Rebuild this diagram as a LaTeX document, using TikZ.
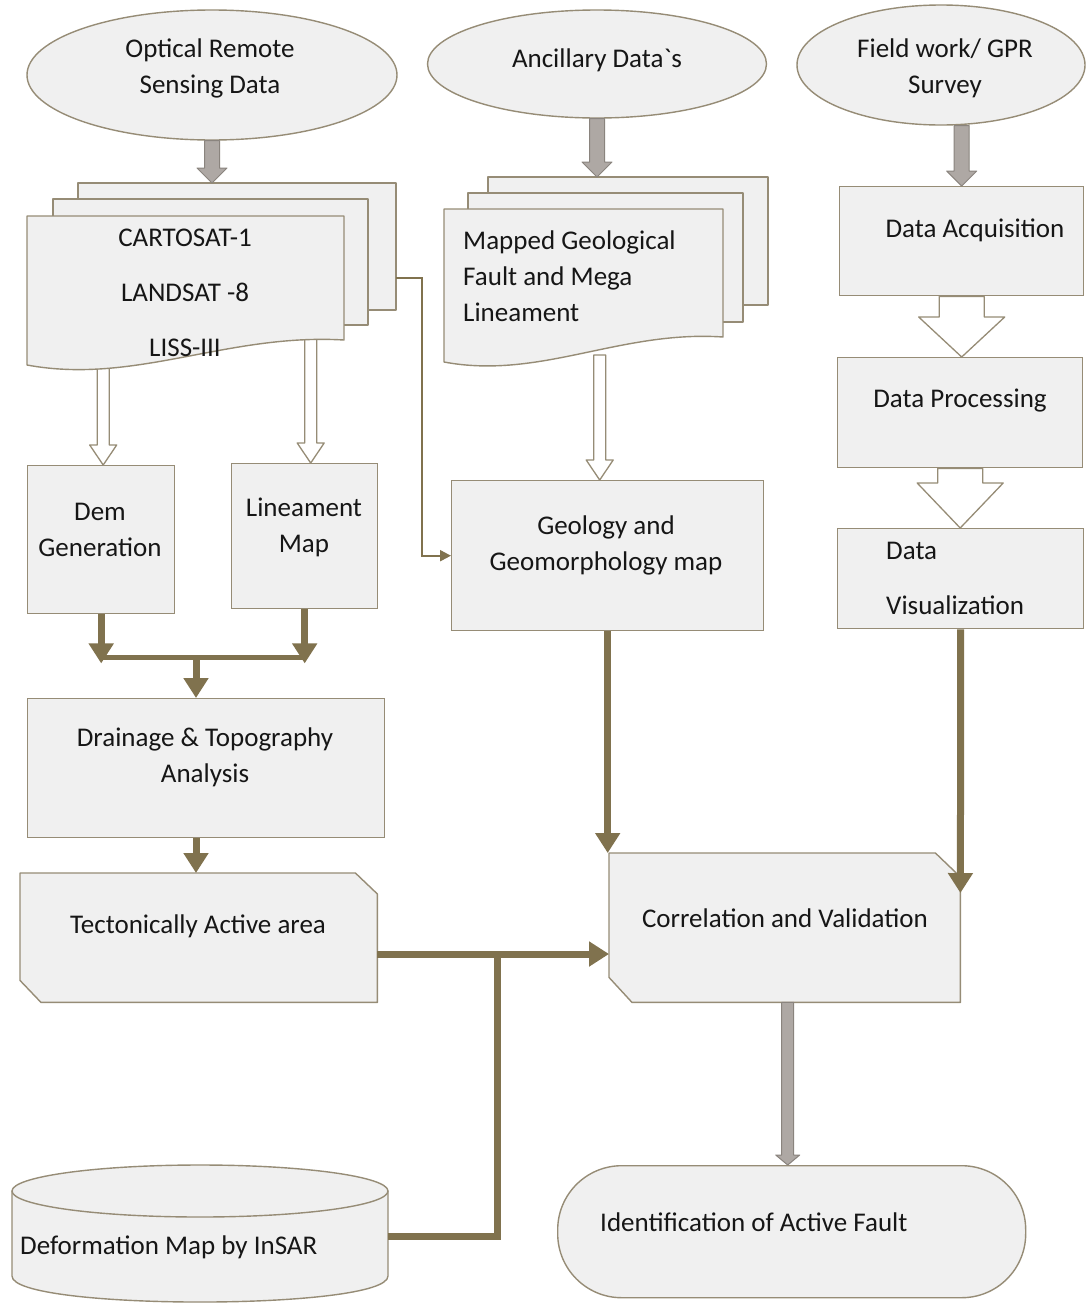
\documentclass[tikz,border=0pt]{standalone}
\usepackage{fontspec}
\setmainfont{Carlito}
\usetikzlibrary{arrows.meta,calc,shapes.geometric}

\definecolor{boxfill}{RGB}{240,240,240}
\definecolor{boxline}{RGB}{150,140,118}
\definecolor{flow}{RGB}{128,114,78}
\definecolor{greyfill}{RGB}{174,168,164}
\definecolor{greyline}{RGB}{138,132,126}
\definecolor{ink}{RGB}{22,22,22}

% vertical block arrow: style, tail, tip, half shaft, half head, head length
\newcommand\vblock[6]{%
  \path[#1] let \p1=#2, \p2=#3 in
    (\x1-#4,\y1) -- (\x1+#4,\y1) -- (\x1+#4,\y2+#6) -- (\x1+#5,\y2+#6)
    -- (\x1,\y2) -- (\x1-#5,\y2+#6) -- (\x1-#4,\y2+#6) -- cycle;}

\begin{document}
\begin{tikzpicture}[x=1pt, y=-1pt,
  font=\fontsize{27}{36}\selectfont, text=ink,
  box/.style={draw=boxline, fill=boxfill, line width=1.4pt, rectangle, inner sep=0pt, anchor=north west},
  ghost/.style={rectangle, inner sep=0pt, anchor=north west},
  oval/.style={draw=boxline, fill=boxfill, line width=1.4pt, ellipse, inner sep=0pt},
  outline/.style={draw=boxline, fill=boxfill, line width=1.4pt, line join=round},
  caption/.style={inner sep=0pt, align=center},
  flowline/.style={draw=flow, line width=7pt},
  flowarrow/.style={flowline, -{Triangle[width=24pt,length=20pt]}},
  link/.style={draw=flow, line width=2pt, -{Triangle[width=11pt,length=11pt]}},
  greyblock/.style={draw=greyline, fill=greyfill, line width=1pt, line join=round},
  hollowblock/.style={draw=boxline, fill=white, line width=1.3pt, line join=round}]

\useasboundingbox (0,0) rectangle (1091,1312);
\fill[white] (0,0) rectangle (1091,1312);

% ---- data sources
\node[oval, minimum width=370pt, minimum height=130pt] (opt) at (212,75) {};
\node[oval, minimum width=339pt, minimum height=108pt] (anc) at (597,64) {};
\node[oval, minimum width=288pt, minimum height=120pt] (fld) at (941,65) {};

% ---- boxes
\node[box, minimum width=147pt, minimum height=148pt] (dem) at (27,465) {};
\node[box, minimum width=146pt, minimum height=145pt] (lin) at (231,463) {};
\node[box, minimum width=312pt, minimum height=150pt] (geo) at (451,480) {};
\node[box, minimum width=244pt, minimum height=109pt] (acq) at (839,186) {};
\node[box, minimum width=245pt, minimum height=110pt] (proc) at (837,357) {};
\node[box, minimum width=246pt, minimum height=100pt] (vis) at (837,528) {};
\node[box, minimum width=357pt, minimum height=139pt] (drain) at (27,698) {};

% hollow arrows leaving the document stacks (drawn beneath them)
\vblock{hollowblock}{($(dem.north)+(2,-110)$)}{($(dem.north)+(2,0)$)}{6pt}{13.5pt}{20pt}
\vblock{hollowblock}{($(lin.north)+(6,-125)$)}{($(lin.north)+(6,0)$)}{6pt}{13.5pt}{20pt}
\vblock{hollowblock}{($(geo.north)+(-8,-125)$)}{($(geo.north)+(-8,0)$)}{6pt}{13.5pt}{20pt}

% ---- document stack: satellite data
\path[outline] (78,183) rectangle (396,310);
\path[outline] (53,199) rectangle (368,325);
\path[outline] (27,216) -- (344,216) -- (344,340)
  .. controls (227,333) and (135,385) .. (27,365) -- cycle;
\node[ghost, minimum width=317pt, minimum height=149pt] (sats) at (27,216) {};
\coordinate (satstop) at (212,183);
\coordinate (satsout) at (396,278);

% ---- document stack: mapped faults
\path[outline] (488,177) rectangle (768,305);
\path[outline] (468,193) rectangle (743,322);
\path[outline] (444,209) -- (723,209) -- (723,337)
  .. controls (620,330) and (540,380) .. (444,362) -- cycle;
\node[ghost, minimum width=279pt, minimum height=153pt] (mapped) at (444,209) {};
\coordinate (mappedtop) at (597,177);

% ---- chamfered boxes
\node[ghost, minimum width=357pt, minimum height=129pt] (tect) at (20,873) {};
\path[outline] (tect.north west) -- ($(tect.north east)+(-22,0)$) -- ($(tect.north east)+(0,21)$)
  -- (tect.south east) -- ($(tect.south west)+(21,0)$) -- ($(tect.south west)+(0,-22)$) -- cycle;
\node[ghost, minimum width=351pt, minimum height=149pt] (corr) at (609,853) {};
\path[outline] (corr.north west) -- ($(corr.north east)+(-25,0)$) -- ($(corr.north east)+(0,24)$)
  -- (corr.south east) -- ($(corr.south west)+(23,0)$) -- ($(corr.south west)+(0,-25)$) -- cycle;

% ---- result terminator
\node[box, rounded corners=64pt, minimum width=468pt, minimum height=132pt] (ident) at (557,1165) {};

% ---- InSAR data store
\node[ghost, minimum width=376pt, minimum height=137pt] (insar) at (12,1165) {};
\path[outline] (12,1191) -- (12,1276) .. controls (12,1310.7) and (388,1310.7) .. (388,1276)
  -- (388,1191) -- cycle;
\path[outline] (200,1191) ellipse [x radius=188, y radius=26];

% ---- grey block arrows
\vblock{greyblock}{(opt.south)}{(satstop)}{7.5pt}{15pt}{15pt}
\vblock{greyblock}{(anc.south)}{(mappedtop)}{7.5pt}{15pt}{15pt}
\vblock{greyblock}{(acq.north |- fld.south)}{(acq.north)}{7.5pt}{15pt}{15pt}
\vblock{greyblock}{($(corr.south)+(3,0)$)}{($(corr.south |- ident.north)+(3,0)$)}{6pt}{12pt}{10pt}

% ---- wide hollow arrows of the field column
\vblock{hollowblock}{(acq.south)}{(acq.south |- proc.north)}{22.5pt}{43pt}{40pt}
\vblock{hollowblock}{(proc.south)}{(proc.south |- vis.north)}{22.5pt}{43pt}{45pt}

% ---- flow connectors
\coordinate (mj) at (196,657);
\draw[flowarrow] (dem.south) -- ++(0,49);
\draw[flowarrow] (lin.south) -- ++(0,54);
\draw[draw=flow, line width=5pt] (dem.south |- mj) -- (lin.south |- mj);
\draw[flowarrow] (mj) -- (mj |- drain.north);
\draw[flowarrow] (mj |- drain.south) -- (mj |- tect.north);
\draw[link] (satsout) -- ++(26,0) |- (geo.west);
\draw[flowarrow] (geo.south) -- (geo.south |- corr.north);
\draw[flowarrow] (vis.south) -- ($(corr.north east)+(0,40)$);
\coordinate (j1) at (497,954);
\draw[flowarrow] (tect.east |- j1) -- (corr.west |- j1);
\draw[flowline] ($(insar.east)+(0,3)$) -| (j1);

% ---- texts
\node[caption] (optT) at (210,68) {Optical Remote\\Sensing Data};
\node[caption] (ancT) at (597,60) {Ancillary Data\textasciigrave s};
\node[caption] (fldT) at (945,68) {Field work/ GPR\\Survey};
\node[caption] (satsT) at (185,293) {CARTOSAT-1\\[19pt]LANDSAT -8\\[19pt]LISS-III};
\node[caption, align=left, anchor=west] (mappedT) at (463,276) {Mapped Geological\\Fault and Mega\\Lineament};
\node[caption] (demT) at (100,530) {Dem\\Generation};
\node[caption] (linT) at (304,527) {Lineament\\Map};
\node[caption] (geoT) at (606,545) {Geology and\\Geomorphology map};
\node[caption] (acqT) at (975,230) {Data Acquisition};
\node[caption] (procT) at (960,401) {Data Processing};
\node[caption, align=left, anchor=west] (visT) at (886,578) {Data\\[19pt]Visualization};
\node[caption] (drainT) at (205,757) {Drainage \& Topography\\Analysis};
\node[caption] (tectT) at (198,926) {Tectonically Active area};
\node[caption] (corrT) at (785,918) {Correlation and Validation};
\node[caption, anchor=west] (identT) at (600,1222) {Identification of Active Fault};
\node[caption, anchor=west] (insarT) at (20,1247) {Deformation Map by InSAR};
\end{tikzpicture}
\end{document}
